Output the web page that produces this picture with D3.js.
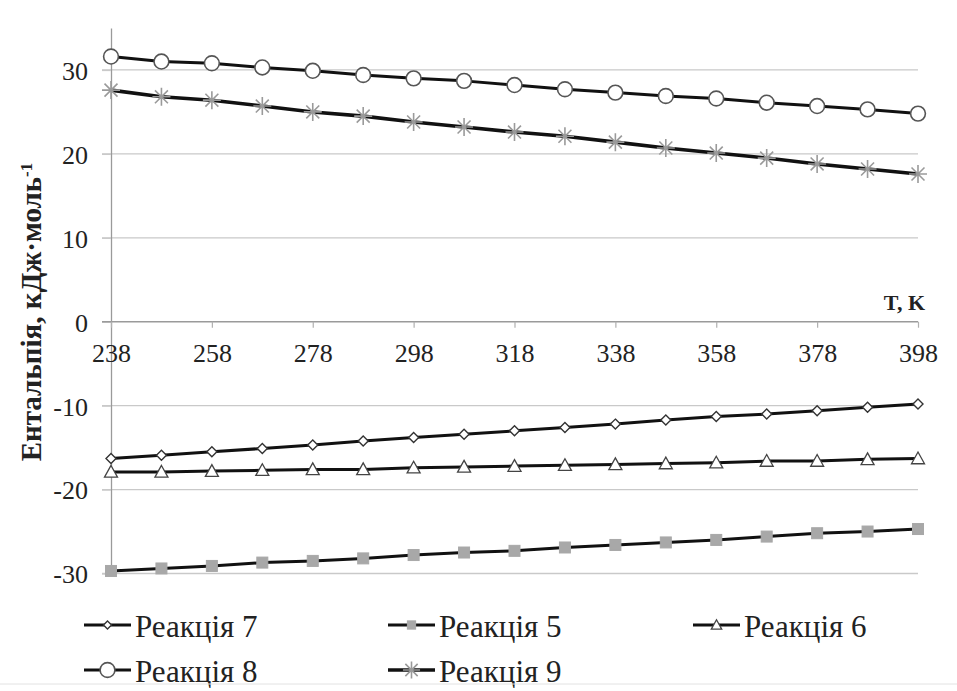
<!DOCTYPE html>
<html>
<head>
<meta charset="utf-8">
<script src="https://cdn.jsdelivr.net/npm/d3@7"></script>
<style>
  html, body { margin: 0; padding: 0; background: #fff; }
  svg { display: block; }
  text { font-family: "Liberation Serif", "Times New Roman", serif; fill: #222; }
</style>
</head>
<body>
<svg id="chart" width="957" height="691"></svg>
<script>
// Temperatures, K
const temps = [238, 248, 258, 268, 278, 288, 298, 308, 318, 328, 338, 348, 358, 368, 378, 388, 398];
const xTickLabels = [238, 258, 278, 298, 318, 338, 358, 378, 398];
const yTicks = [-30, -20, -10, 0, 10, 20, 30];

// Enthalpy of each reaction, kJ/mol
const reaction7 = [-16.3, -15.9, -15.5, -15.1, -14.7, -14.2, -13.8, -13.4, -13.0, -12.6, -12.2, -11.7, -11.3, -11.0, -10.6, -10.2, -9.8];
const reaction5 = [-29.7, -29.4, -29.1, -28.7, -28.5, -28.2, -27.8, -27.5, -27.3, -26.9, -26.6, -26.3, -26.0, -25.6, -25.2, -25.0, -24.7];
const reaction6 = [-17.9, -17.9, -17.8, -17.7, -17.6, -17.6, -17.4, -17.3, -17.2, -17.1, -17.0, -16.9, -16.8, -16.6, -16.6, -16.4, -16.3];
const reaction8 = [31.6, 31.0, 30.8, 30.3, 29.9, 29.4, 29.0, 28.7, 28.2, 27.7, 27.3, 26.9, 26.6, 26.1, 25.7, 25.3, 24.8];
const reaction9 = [27.6, 26.8, 26.4, 25.7, 25.0, 24.5, 23.8, 23.2, 22.6, 22.1, 21.4, 20.7, 20.1, 19.5, 18.8, 18.2, 17.6];

const seriesNames = ["Реакція 7", "Реакція 5", "Реакція 6", "Реакція 8", "Реакція 9"];
const seriesValues = [reaction7, reaction5, reaction6, reaction8, reaction9];
const seriesMarkers = ["diamond", "square", "triangle", "circle", "star"];

const svg = d3.select("#chart");
const serif = "'Liberation Serif', 'Times New Roman', serif";

const x = d3.scaleLinear().domain([238, 398]).range([111, 918]);
const y = d3.scaleLinear().domain([-30, 35]).range([573.5, 28]);

// Horizontal gridlines (zero line is the category axis)
svg.append("g")
  .selectAll("line")
  .data(yTicks.filter(d => d !== 0))
  .join("line")
  .attr("x1", x(238) - 9).attr("x2", x(398))
  .attr("y1", d => y(d)).attr("y2", d => y(d))
  .attr("stroke", "#c9c9c9").attr("stroke-width", 1.3);

// Value axis
const yAxis = d3.axisLeft(y).tickValues(yTicks).tickSize(9).tickSizeOuter(0).tickFormat(d => String(d));
const gy = svg.append("g").attr("transform", `translate(${x(238)},0)`).call(yAxis);
gy.select(".domain").attr("stroke", "#9a9a9a").attr("stroke-width", 1.3);
gy.selectAll(".tick line").attr("stroke", "#c9c9c9").attr("stroke-width", 1.3);
gy.selectAll(".tick text")
  .attr("x", -23).attr("dy", "0.36em")
  .style("font-family", serif).style("font-size", "26px").attr("fill", "#333");

// Category axis crossing at zero
const xAxis = d3.axisBottom(x).tickValues(xTickLabels).tickSize(6).tickSizeOuter(0).tickFormat(d => String(d));
const gx = svg.append("g").attr("transform", `translate(0,${y(0)})`).call(xAxis);
gx.select(".domain").attr("d", `M${x(238) - 9},0H${x(398)}`).attr("stroke", "#9a9a9a").attr("stroke-width", 1.3);
gx.selectAll(".tick line").attr("stroke", "#b0b0b0").attr("stroke-width", 1.2);
gx.selectAll(".tick text")
  .attr("y", 22).attr("dy", "0.71em")
  .style("font-family", serif).style("font-size", "26px").attr("fill", "#333");

// Axis titles
svg.append("text")
  .attr("x", 925).attr("y", 310)
  .attr("text-anchor", "end")
  .style("font-size", "22px").style("font-weight", "bold")
  .text("T, K");

const yTitle = svg.append("text")
  .attr("transform", "translate(41,312) rotate(-90)")
  .attr("text-anchor", "middle")
  .style("font-size", "29px").style("font-weight", "bold");
yTitle.append("tspan").text("Ентальпія,  кДж·моль");
yTitle.append("tspan").attr("dy", "-0.55em").style("font-size", "17px").text("-1");

// Marker shapes
function drawMarker(g, type, cx, cy, scale = 1) {
  if (type === "diamond") {
    const s = 5 * scale;
    g.append("path").attr("d", `M${cx},${cy - s}L${cx + s},${cy}L${cx},${cy + s}L${cx - s},${cy}Z`)
      .attr("fill", "#fff").attr("stroke", "#333").attr("stroke-width", 1.4);
  } else if (type === "square") {
    const s = 5.5 * scale;
    g.append("rect").attr("x", cx - s).attr("y", cy - s).attr("width", 2 * s).attr("height", 2 * s)
      .attr("fill", "#a8a8a8").attr("stroke", "#a8a8a8").attr("stroke-width", 1);
  } else if (type === "triangle") {
    const s = 6.5 * scale;
    g.append("path").attr("d", `M${cx},${cy - s}L${cx + s},${cy + s * 0.8}L${cx - s},${cy + s * 0.8}Z`)
      .attr("fill", "#fff").attr("stroke", "#444").attr("stroke-width", 1.3);
  } else if (type === "circle") {
    g.append("circle").attr("cx", cx).attr("cy", cy).attr("r", 7.4 * scale)
      .attr("fill", "#fff").attr("stroke", "#555").attr("stroke-width", 1.6);
  } else if (type === "star") {
    const s = 9 * scale;
    const d = s * 0.72;
    g.append("path")
      .attr("d", `M${cx},${cy - s}V${cy + s}M${cx - d},${cy - d}L${cx + d},${cy + d}M${cx - d},${cy + d}L${cx + d},${cy - d}M${cx - s},${cy}H${cx + s}`)
      .attr("fill", "none").attr("stroke", "#9a9a9a").attr("stroke-width", 1.6);
  }
}

const line = d3.line().x((d, i) => x(temps[i])).y(d => y(d));

seriesValues.forEach((vals, si) => {
  const g = svg.append("g");
  g.append("path").datum(vals).attr("d", line)
    .attr("fill", "none").attr("stroke", "#111").attr("stroke-width", si === 4 ? 3.6 : 3.0)
    .attr("stroke-linejoin", "round");
  vals.forEach((v, i) => drawMarker(g, seriesMarkers[si], x(temps[i]), y(v)));
});

// Legend: three columns, two rows
const legendCols = [84, 388, 693];
const legendRows = [625, 670];
const legendScale = [0.8, 0.75, 0.8, 1.0, 0.95];
const legend = svg.append("g");
seriesNames.forEach((name, i) => {
  const lx = legendCols[i % 3];
  const ly = legendRows[Math.floor(i / 3)];
  const g = legend.append("g");
  g.append("line").attr("x1", lx).attr("x2", lx + 47).attr("y1", ly).attr("y2", ly)
    .attr("stroke", "#111").attr("stroke-width", i === 4 ? 3.6 : 3);
  drawMarker(g, seriesMarkers[i], lx + 23.5, ly, legendScale[i]);
  g.append("text").attr("x", lx + 51).attr("y", ly + 12)
    .style("font-size", "31px").text(name);
});

// Chart area bottom edge
svg.append("line").attr("x1", 0).attr("x2", 957).attr("y1", 684).attr("y2", 684)
  .attr("stroke", "#e2e2e2").attr("stroke-width", 1);
</script>
</body>
</html>
